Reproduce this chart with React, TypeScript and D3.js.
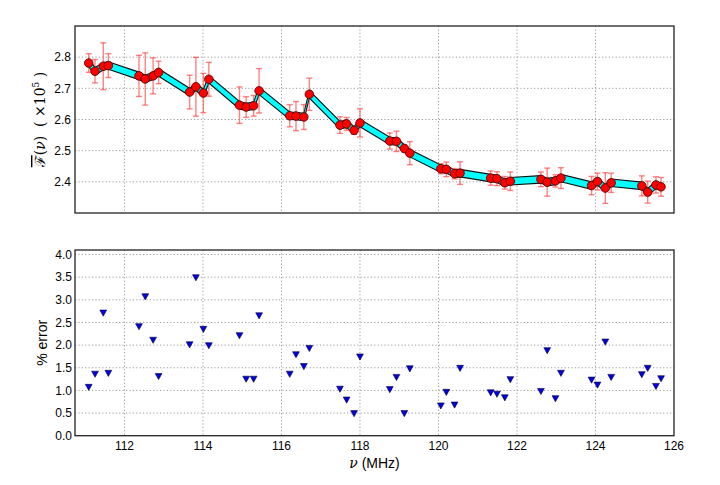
import React from "react";
import * as d3 from "d3";

const freq = [
  111.09, 111.25, 111.46, 111.59, 112.37, 112.53, 112.73, 112.87,
  113.66, 113.82, 114.01, 114.15, 114.93, 115.10, 115.29, 115.43,
  116.21, 116.37, 116.57, 116.71, 117.49, 117.66, 117.85, 118.0,
  118.76, 118.93, 119.13, 119.27, 120.06, 120.20, 120.41, 120.55,
  121.33, 121.49, 121.69, 121.83, 122.61, 122.77, 122.98, 123.12,
  123.90, 124.05, 124.25, 124.40, 125.18, 125.33, 125.54, 125.67,
];

const fluxMean = [
  2.781, 2.755, 2.771, 2.773, 2.740, 2.730, 2.740, 2.751,
  2.688, 2.705, 2.685, 2.729, 2.646, 2.640, 2.644, 2.692,
  2.612, 2.611, 2.608, 2.681, 2.582, 2.586, 2.565, 2.589,
  2.531, 2.530, 2.507, 2.492, 2.442, 2.440, 2.426, 2.428,
  2.412, 2.410, 2.397, 2.402, 2.408, 2.399, 2.403, 2.412,
  2.388, 2.401, 2.380, 2.397, 2.387, 2.367, 2.390, 2.384,
];

const pctError = [
  1.07, 1.36, 2.71, 1.38, 2.41, 3.07, 2.11, 1.31,
  2.01, 3.49, 2.35, 1.99, 2.21, 1.25, 1.25, 2.65,
  1.36, 1.79, 1.53, 1.93, 1.03, 0.79, 0.49, 1.74,
  1.02, 1.29, 0.49, 1.48, 0.66, 0.96, 0.68, 1.49,
  0.95, 0.92, 0.84, 1.24, 0.98, 1.88, 0.82, 1.38,
  1.23, 1.12, 2.07, 1.29, 1.35, 1.49, 1.09, 1.26,
];

const xTicks = [112, 114, 116, 118, 120, 122, 124, 126];
const yTopTicks = [2.4, 2.5, 2.6, 2.7, 2.8];
const yBotTicks = [0.0, 0.5, 1.0, 1.5, 2.0, 2.5, 3.0, 3.5, 4.0];
const bandHalf = 0.012;

const L = 75, R = 674;
const T1 = 26, B1 = 213;
const T2 = 250, B2 = 435.7;

const sans = "'Liberation Sans', Arial, Helvetica, sans-serif";
const serif = "'DejaVu Serif', 'Liberation Serif', serif";

export default function App() {
  const x = d3.scaleLinear().domain([110.74, 126]).range([L, R]);
  const yT = d3.scaleLinear().domain([2.3, 2.9]).range([B1, T1]);
  const yB = d3.scaleLinear().domain([0, 4.1]).range([B2, T2]);

  const pts = freq.map((f, i) => ({ f, v: fluxMean[i], p: pctError[i], e: (fluxMean[i] * pctError[i]) / 100 }));

  const band = d3
    .area<{ f: number; v: number }>()
    .x((d) => x(d.f))
    .y0((d) => yT(d.v - bandHalf))
    .y1((d) => yT(d.v + bandHalf));

  const grid = "#9a9a9a";
  const dash = "1.2,2.2";

  const tri = (cx: number, cy: number) => {
    const s = 3.4;
    return `M${cx - s},${cy - s * 0.85}L${cx + s},${cy - s * 0.85}L${cx},${cy + s * 0.95}Z`;
  };

  return (
    <svg width={720} height={485} style={{ position: "fixed", left: 0, top: 0, background: "#fff" }}>
      <rect width={720} height={485} fill="#fff" />
      {/* ===== Top panel ===== */}
      <g>
        {xTicks.filter((t) => t < 126).map((t) => (
          <line key={"gx1" + t} x1={x(t)} x2={x(t)} y1={T1} y2={B1} stroke={grid} strokeWidth={1} strokeDasharray={dash} />
        ))}
        {yTopTicks.map((t) => (
          <line key={"gy1" + t} x1={L} x2={R} y1={yT(t)} y2={yT(t)} stroke={grid} strokeWidth={1} strokeDasharray={dash} />
        ))}
        <path d={band(pts) || ""} fill="#00ffff" stroke="#111" strokeWidth={1.1} strokeLinejoin="miter" />
        {pts.map((d, i) => (
          <g key={"eb" + i} stroke="#ff3030" strokeOpacity={0.6} strokeWidth={1.4}>
            <line x1={x(d.f)} x2={x(d.f)} y1={yT(d.v - d.e)} y2={yT(d.v + d.e)} />
            <line x1={x(d.f) - 3} x2={x(d.f) + 3} y1={yT(d.v - d.e)} y2={yT(d.v - d.e)} />
            <line x1={x(d.f) - 3} x2={x(d.f) + 3} y1={yT(d.v + d.e)} y2={yT(d.v + d.e)} />
          </g>
        ))}
        {pts.map((d, i) => (
          <circle key={"m" + i} cx={x(d.f)} cy={yT(d.v)} r={4.3} fill="#ff0000" stroke="#4a0000" strokeWidth={0.8} />
        ))}
        <rect x={L} y={T1} width={R - L} height={B1 - T1} fill="none" stroke="#222" strokeWidth={1.3} />
        {yTopTicks.map((t) => (
          <text key={"ty1" + t} x={L - 4} y={yT(t) + 4.3} textAnchor="end" fontFamily={sans} fontSize={12} fill="#000">
            {t.toFixed(1)}
          </text>
        ))}
        <g transform={`translate(45,${(T1 + B1) / 2}) rotate(-90)`}>
          <text x={0} y={0} textAnchor="middle" fontFamily={serif} fontSize={14} fill="#000">
            <tspan textDecoration="overline" style={{ textDecoration: "overline" }}>ℱ</tspan>
            <tspan>(</tspan>
            <tspan fontStyle="italic">ν</tspan>
            <tspan>)</tspan>
            <tspan>{"\u00a0\u00a0(\u00a0×10"}</tspan>
            <tspan fontSize={9} dy={-6}>5</tspan>
            <tspan dy={6}>{"\u00a0)"}</tspan>
          </text>
        </g>
      </g>

      {/* ===== Bottom panel ===== */}
      <g>
        {xTicks.filter((t) => t < 126).map((t) => (
          <line key={"gx2" + t} x1={x(t)} x2={x(t)} y1={T2} y2={B2} stroke={grid} strokeWidth={1} strokeDasharray={dash} />
        ))}
        {yBotTicks.filter((t) => t > 0).map((t) => (
          <line key={"gy2" + t} x1={L} x2={R} y1={yB(t)} y2={yB(t)} stroke={grid} strokeWidth={1} strokeDasharray={dash} />
        ))}
        {pts.map((d, i) => (
          <path key={"t" + i} d={tri(x(d.f), yB(d.p))} fill="#0000e0" stroke="#000033" strokeWidth={0.6} />
        ))}
        <rect x={L} y={T2} width={R - L} height={B2 - T2} fill="none" stroke="#222" strokeWidth={1.3} />
        {yBotTicks.map((t) => (
          <text key={"ty2" + t} x={L - 3} y={yB(t) + 4.3} textAnchor="end" fontFamily={sans} fontSize={12} fill="#000">
            {t.toFixed(1)}
          </text>
        ))}
        {xTicks.map((t) => (
          <text key={"tx" + t} x={x(t)} y={B2 + 14} textAnchor="middle" fontFamily={sans} fontSize={12} fill="#000">
            {t}
          </text>
        ))}
        <text x={(L + R) / 2} y={468} textAnchor="middle" fontFamily={sans} fontSize={14} fill="#000">
          <tspan fontFamily={serif} fontStyle="italic">ν</tspan>
          <tspan>{"\u00a0(MHz)"}</tspan>
        </text>
        <text transform={`translate(47,${(T2 + B2) / 2}) rotate(-90)`} textAnchor="middle" fontFamily={sans} fontSize={14} fill="#000">
          % error
        </text>
      </g>
    </svg>
  );
}
